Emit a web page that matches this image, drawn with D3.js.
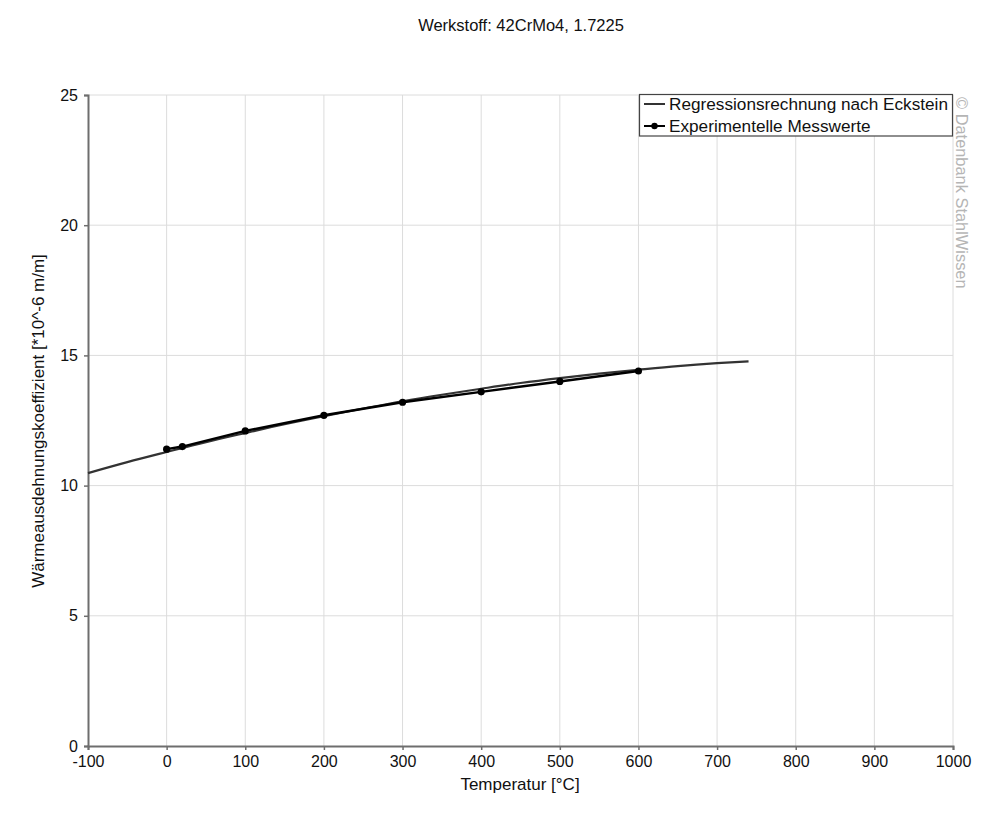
<!DOCTYPE html>
<html><head><meta charset="utf-8">
<script src="https://cdn.jsdelivr.net/npm/d3@7"></script>
<style>body{margin:0;background:#fff;} svg{display:block;font-family:"Liberation Sans",Arial,sans-serif;}</style>
</head><body>
<script>
const title = "Werkstoff: 42CrMo4, 1.7225";
const xTicks = [-100,0,100,200,300,400,500,600,700,800,900,1000];
const yTicks = [0,5,10,15,20,25];
const regT = [-100,-50,0,50,100,150,200,250,300,350,400,450,500,550,600,650,700,740];
const regV = [10.48,10.90,11.29,11.67,12.02,12.36,12.67,12.96,13.24,13.49,13.72,13.94,14.13,14.30,14.45,14.59,14.70,14.77];
const expT = [0,20,100,200,300,400,500,600];
const expV = [11.4,11.5,12.1,12.7,13.2,13.6,14.0,14.4];
const legendLabels = ["Regressionsrechnung nach Eckstein","Experimentelle Messwerte"];

const W=1000,H=839;
const svg=d3.select("body").append("svg").attr("width",W).attr("height",H);
const x=d3.scaleLinear().domain([-100,1000]).range([88,953]);
const y=d3.scaleLinear().domain([0,25]).range([746,95]);

// grid
svg.append("g").selectAll("line").data(xTicks.slice(1)).join("line")
  .attr("x1",d=>x(d)).attr("x2",d=>x(d)).attr("y1",y(0)).attr("y2",y(25))
  .attr("stroke","#dcdcdc").attr("stroke-width",1);
svg.append("g").selectAll("line").data(yTicks.slice(1)).join("line")
  .attr("x1",x(-100)).attr("x2",x(1000)).attr("y1",d=>y(d)).attr("y2",d=>y(d))
  .attr("stroke","#dcdcdc").attr("stroke-width",1);

// axes
const xa=svg.append("g").attr("transform",`translate(0,${y(0)})`)
  .call(d3.axisBottom(x).tickValues(xTicks).tickSize(4).tickPadding(6).tickFormat(d=>String(d)));
const ya=svg.append("g").attr("transform",`translate(${x(-100)},0)`)
  .call(d3.axisLeft(y).tickValues(yTicks).tickSize(4).tickPadding(6).tickFormat(d=>String(d)));
[xa,ya].forEach(a=>{
  a.selectAll("path").attr("stroke","#6e6e6e").attr("stroke-width",2);
  a.selectAll("line").attr("stroke","#6e6e6e").attr("stroke-width",1.5);
  a.selectAll("text").attr("fill","#111").style("font-size","16px").style("font-family","Liberation Sans, Arial, sans-serif");
});

// regression
svg.append("path").datum(regT.map((t,i)=>[t,regV[i]]))
  .attr("fill","none").attr("stroke","#333").attr("stroke-width",2.2)
  .attr("d",d3.line().x(d=>x(d[0])).y(d=>y(d[1])).curve(d3.curveMonotoneX));

// experimental
const ed=expT.map((t,i)=>[t,expV[i]]);
svg.append("path").datum(ed).attr("fill","none").attr("stroke","#000").attr("stroke-width",2.4)
  .attr("d",d3.line().x(d=>x(d[0])).y(d=>y(d[1])));
svg.append("g").selectAll("circle").data(ed).join("circle")
  .attr("cx",d=>x(d[0])).attr("cy",d=>y(d[1])).attr("r",3.6).attr("fill","#000");

// title & labels
svg.append("text").attr("x",521).attr("y",31).attr("text-anchor","middle")
  .style("font-size","16.5px").attr("fill","#111").text(title);
svg.append("text").attr("x",520).attr("y",790).attr("text-anchor","middle")
  .style("font-size","17px").attr("fill","#111").text("Temperatur [°C]");
svg.append("text").attr("transform","translate(44,421) rotate(-90)").attr("text-anchor","middle")
  .style("font-size","17px").attr("fill","#111").text("Wärmeausdehnungskoeffizient [*10^-6 m/m]");

// legend
const lg=svg.append("g");
lg.append("rect").attr("x",639.5).attr("y",94.5).attr("width",313).attr("height",41.5)
  .attr("fill","#fff").attr("stroke","#444").attr("stroke-width",1.2);
lg.append("line").attr("x1",644).attr("x2",665).attr("y1",104).attr("y2",104).attr("stroke","#333").attr("stroke-width",2);
lg.append("line").attr("x1",644).attr("x2",665).attr("y1",126).attr("y2",126).attr("stroke","#000").attr("stroke-width",2);
lg.append("circle").attr("cx",654.5).attr("cy",126).attr("r",3.2).attr("fill","#000");
lg.selectAll("text.l").data(legendLabels).join("text").attr("class","l")
  .attr("x",669).attr("y",(d,i)=>110+i*22).style("font-size","17.2px").attr("fill","#111").text(d=>d);

// watermark
svg.append("text").attr("transform","translate(956,97) rotate(90)").attr("text-anchor","start")
  .style("font-size","16.4px").attr("fill","#b5b5b5").text("© Datenbank StahlWissen");
</script>
</body></html>
